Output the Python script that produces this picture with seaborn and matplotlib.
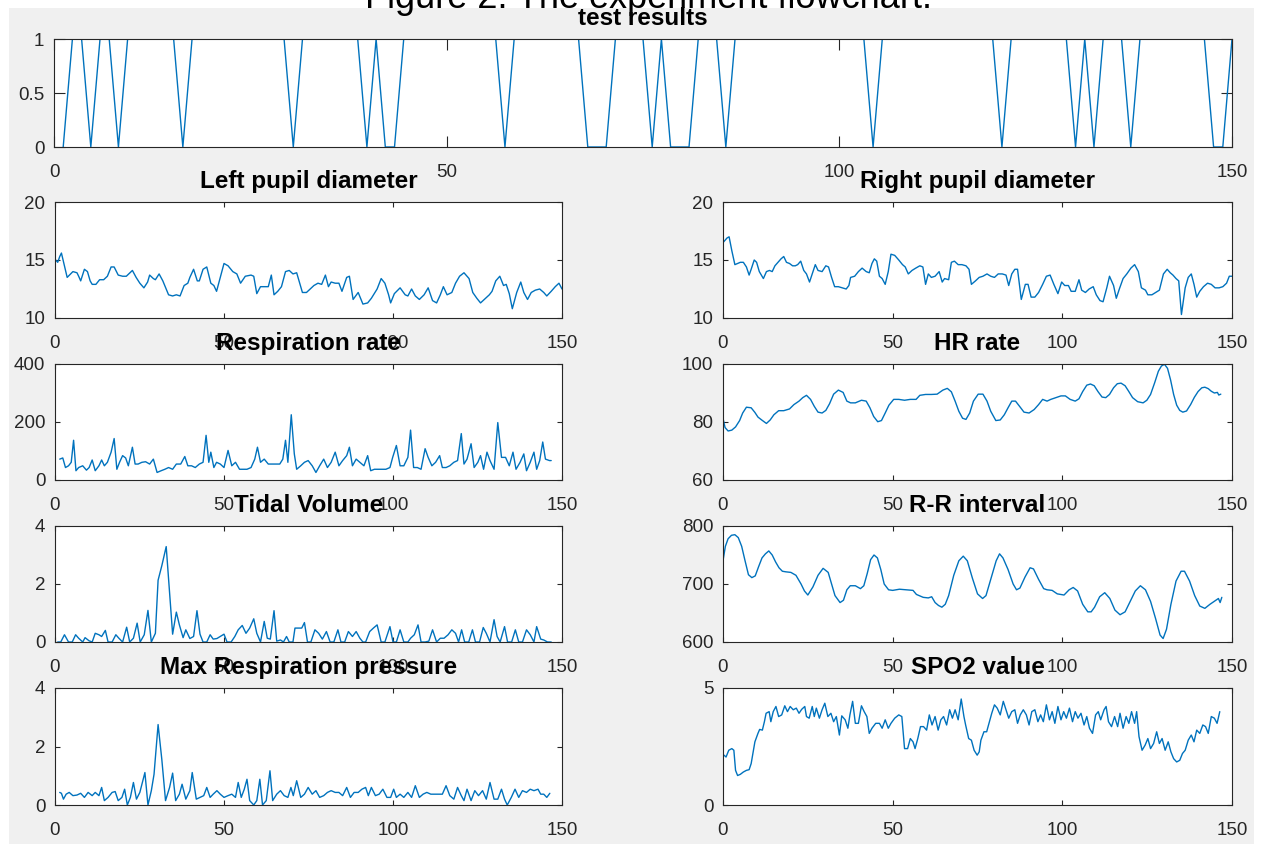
import numpy as np
import matplotlib
matplotlib.use("Agg")
import matplotlib.pyplot as plt
import seaborn as sns
from matplotlib.patches import Rectangle

# ---------------- data ----------------
test_results = [0,1,1,0,1,1,0,1,1,1,1,1,1,0,1,1,
                1,1,1,1,1,1,1,1,1,0,1,1,1,1,1,1,
                1,0,1,0,0,1,1,1,1,1,1,1,1,1,1,1,
                0,1,1,1,1,1,1,1,1,0,0,0,1,1,1,1,
                0,1,0,0,0,1,1,1,0,1,1,1,1,1,1,1,
                1,1,1,1,1,1,1,1,0,1,1,1,1,1,1,1,
                1,1,1,1,1,1,0,1,1,1,1,1,1,1,0,1,
                0,1,1,1,0,1,1,1,1,1,1,1,1,0,0,1]
test_x = np.arange(1, len(test_results) + 1) * 150 / len(test_results)

left_pupil_x = [0.2,0.8,1.4,1.9,3.6,5.3,6.5,7.0,7.6,8.7,
                9.6,10.4,11.0,12.1,13.2,14.4,15.5,16.6,17.5,18.7,
                20.0,21.1,22.9,24.0,25.1,26.3,27.4,28.0,29.1,29.7,
                30.8,31.9,33.6,34.8,35.9,37.0,38.2,39.3,39.9,41.0,
                42.1,42.7,43.8,44.9,46.1,47.0,47.8,48.9,50.0,51.2,
                52.6,53.8,54.9,56.3,58.0,58.8,59.7,60.8,62.5,63.1,
                64.0,64.8,65.9,67.0,68.2,69.3,70.4,71.5,73.2,74.4,
                75.5,76.6,77.8,78.9,80.0,80.9,81.7,82.9,84.0,84.9,
                86.3,87.1,88.2,89.7,91.1,92.5,93.6,95.3,96.5,97.6,
                98.7,99.3,100.4,102.1,103.6,104.4,105.5,106.6,107.8,109.2,
                110.4,111.7,112.9,114.0,114.9,116.0,117.4,118.5,119.7,121.0,
                122.5,123.6,124.8,125.9,127.4,128.5,129.3,130.4,131.6,132.7,
                133.5,134.4,135.3,136.6,137.8,138.7,139.8,140.9,142.1,143.4,
                144.6,145.5,146.8,148.0,149.1,150.0]
left_pupil = [15.0,14.8,15.3,15.6,13.5,14.0,13.9,13.6,13.2,14.2,
              14.0,13.2,12.9,12.9,13.3,13.3,13.6,14.4,14.4,13.7,
              13.6,13.6,14.1,13.5,13.0,12.6,13.1,13.7,13.4,13.3,
              13.8,13.2,12.0,11.9,12.0,11.9,12.8,13.0,13.5,14.2,
              13.2,13.2,14.2,14.4,13.0,12.8,12.3,13.5,14.7,14.5,
              14.0,13.8,13.0,13.6,13.7,13.6,12.1,12.7,12.7,12.7,
              13.7,12.0,12.3,12.7,14.0,14.1,13.8,13.9,12.2,12.2,
              12.5,12.8,13.0,12.9,13.7,12.7,13.1,13.0,13.0,12.3,
              13.5,13.6,11.6,12.2,11.2,11.3,11.7,12.5,13.4,13.0,
              12.0,11.3,12.1,12.6,12.0,11.9,12.5,11.9,11.6,12.0,
              12.6,11.5,11.3,12.0,12.7,12.0,12.2,13.0,13.6,13.9,
              13.4,12.2,11.7,11.3,11.7,12.0,12.3,13.2,13.6,12.8,
              12.9,12.1,10.8,12.2,13.1,12.2,11.6,12.2,12.4,12.5,
              12.2,11.9,12.3,12.7,13.0,12.5]

right_pupil_x = [0.0,1.2,1.8,2.6,3.5,4.3,5.1,6.0,6.9,7.7,
                 8.3,9.2,9.9,10.7,11.9,12.8,13.7,14.5,15.3,16.2,
                 17.1,17.9,18.7,19.6,20.5,21.3,22.0,22.9,23.8,24.6,
                 25.5,26.3,27.2,28.0,29.2,30.3,31.1,32.0,32.9,34.0,
                 35.2,36.3,37.1,37.6,38.8,39.9,41.0,42.2,43.1,43.9,
                 44.6,45.3,46.1,46.9,47.8,48.7,49.5,50.6,51.8,52.9,
                 53.7,54.6,55.7,56.8,58.0,58.9,59.7,60.5,61.4,62.5,
                 63.7,64.6,65.3,66.5,67.3,68.2,69.3,70.4,71.6,72.5,
                 73.2,74.4,75.5,76.6,77.8,78.9,80.0,81.1,82.3,83.4,
                 84.2,85.1,86.0,86.8,87.9,89.1,89.9,90.8,91.9,93.0,
                 94.2,95.3,96.4,97.5,98.7,99.8,100.7,101.8,102.6,103.8,
                 104.9,105.7,106.8,107.9,109.1,110.0,111.1,112.0,113.1,113.9,
                 115.1,115.9,116.8,117.9,119.0,120.2,121.3,122.4,123.3,124.5,
                 125.2,126.4,127.5,128.6,129.8,130.9,131.8,132.6,133.5,134.3,
                 135.1,136.2,137.1,138.0,138.8,139.6,140.5,141.6,142.8,143.9,
                 145.0,146.2,147.3,148.4,149.2,150.0]
right_pupil = [16.5,16.9,17.0,15.8,14.6,14.7,14.8,14.8,14.4,13.7,
               14.2,15.0,14.8,14.0,13.4,14.0,14.1,14.0,14.5,14.8,
               15.1,15.3,14.8,14.7,14.5,14.5,14.6,14.9,14.1,13.8,
               13.1,13.8,14.6,14.1,14.0,14.5,14.4,13.5,12.7,12.7,
               12.6,12.5,12.8,13.5,13.6,14.0,14.3,14.0,13.9,14.7,
               15.1,14.9,13.6,13.4,12.9,14.0,15.5,15.4,15.0,14.6,
               14.4,13.8,14.1,14.3,14.5,14.4,12.9,13.8,13.5,13.6,
               14.0,13.1,13.4,13.3,14.8,14.9,14.6,14.6,14.5,14.2,
               12.9,13.2,13.5,13.6,13.8,13.6,13.5,13.8,13.8,13.7,
               12.8,13.8,14.2,14.2,11.6,12.9,12.9,11.8,11.8,12.2,
               12.9,13.6,13.7,12.9,12.1,13.1,12.8,12.8,12.3,12.3,
               13.3,12.4,12.2,12.5,12.7,12.0,11.5,11.4,12.6,13.6,
               12.8,11.7,12.5,13.4,13.8,14.3,14.6,14.0,12.6,12.4,
               12.0,12.0,12.2,12.4,13.8,14.2,13.9,13.7,13.4,13.2,
               10.3,12.6,13.5,13.8,12.9,11.8,12.3,12.7,13.0,12.9,
               12.6,12.6,12.7,13.0,13.6,13.6]

resp_rate_x = [1.4,2.3,3.1,4.0,4.8,5.5,6.2,7.0,8.2,9.3,
               10.1,11.0,11.9,13.0,13.8,14.6,15.5,16.6,17.5,18.3,
               19.1,20.0,20.9,21.7,22.9,23.7,24.6,25.7,26.8,28.0,
               29.1,30.2,31.4,32.5,33.6,34.8,35.9,37.2,38.4,39.3,
               40.4,41.5,42.7,43.8,44.7,45.5,46.1,47.0,47.8,48.9,
               50.0,51.2,52.3,53.4,54.6,55.7,56.8,58.0,59.1,59.9,
               60.8,61.9,63.1,64.2,65.3,66.5,67.4,68.2,68.9,69.9,
               70.8,71.5,72.7,73.8,74.9,76.1,77.2,78.3,79.5,80.6,
               81.7,82.9,84.0,85.1,86.3,87.1,88.0,89.1,90.2,91.4,
               92.5,93.4,94.5,95.7,96.8,97.9,99.1,99.9,101.0,102.1,
               103.2,104.4,105.2,106.1,107.2,108.3,109.5,110.4,111.5,112.6,
               113.8,114.6,115.7,116.8,118.0,119.1,120.2,121.0,121.9,123.1,
               124.0,125.1,125.9,126.8,127.8,128.7,129.9,131.0,132.1,133.3,
               134.4,135.5,136.4,137.6,138.7,139.5,140.6,141.7,142.5,143.4,
               144.3,145.1,146.3,146.8]
resp_rate = [72,76,43,49,61,137,32,43,49,34,
             43,69,32,49,69,49,61,96,143,37,
             61,84,76,49,113,55,55,61,63,55,
             72,26,32,37,43,37,55,55,81,49,
             49,43,55,61,154,61,96,43,61,55,
             43,102,49,61,37,37,37,43,72,113,
             61,72,55,55,55,55,72,137,61,225,
             90,37,49,61,67,49,26,49,72,43,
             61,96,49,67,84,113,49,72,61,49,
             84,32,37,37,37,37,43,78,119,49,
             49,78,172,43,43,37,108,78,49,61,
             84,43,43,49,61,67,160,55,72,125,
             43,61,84,37,96,67,37,198,78,78,
             49,96,37,61,90,32,61,96,37,67,
             131,72,67,67]

hr_x = [0,0.6,1.5,2.6,3.7,4.9,5.8,6.9,8.3,9.4,
        10.3,11.4,12.8,13.9,15.0,16.4,17.9,19.6,20.9,22.4,
        23.5,24.6,25.8,26.9,28.0,29.2,30.3,31.4,32.6,34.0,
        35.4,36.5,37.6,39.0,40.8,42.2,43.3,44.4,45.6,46.7,
        47.8,48.9,50.3,51.8,53.5,55.2,56.9,58.0,59.7,61.4,
        63.1,64.8,66.1,67.3,68.4,69.5,70.6,71.6,72.7,73.8,
        75.2,76.6,77.8,78.9,80.4,81.7,82.9,84.0,85.1,86.2,
        87.4,88.7,90.2,91.7,93.0,94.2,95.5,96.6,98.1,99.6,
        100.9,102.3,103.8,104.9,106.0,107.2,108.3,109.4,110.5,111.7,
        112.8,113.9,115.1,116.2,117.3,118.5,119.6,120.7,122.2,123.8,
        124.9,126.0,127.2,128.3,129.2,130.1,131.0,131.9,132.8,133.7,
        134.6,135.5,136.6,137.8,138.9,140.0,141.1,142.0,143.0,143.9,
        144.8,145.7,146.1,146.7]
hr_rate = [81.3,78.1,76.9,77.2,78.3,80.5,83.1,85.1,84.9,83.3,
           81.7,80.7,79.5,80.7,82.5,83.9,83.9,84.5,86.0,87.2,
           88.4,89.2,87.8,85.4,83.4,83.1,84.0,86.3,89.6,91.0,
           90.2,87.2,86.6,86.6,87.5,87.2,84.9,81.9,80.1,80.5,
           83.1,85.8,87.8,87.8,87.5,87.8,87.8,89.2,89.5,89.5,
           89.6,91.0,91.6,90.4,87.2,83.7,81.3,80.9,83.1,87.2,
           89.6,89.6,87.2,83.7,80.5,80.7,82.5,84.9,87.2,87.2,
           85.4,83.4,83.1,84.3,86.0,87.8,87.2,87.8,88.4,89.0,
           89.0,87.8,87.2,88.0,90.5,92.7,93.1,92.5,90.5,88.6,
           88.4,89.5,91.8,93.2,93.4,92.5,90.5,88.4,87.0,86.6,
           87.5,89.5,93.5,97.5,99.3,99.9,98.5,94.5,89.5,85.8,
           84.0,83.4,83.8,86.0,88.5,90.5,91.8,92.0,91.5,90.6,
           90.0,90.2,89.3,89.6]

tidal_x = [0.8,1.7,2.8,4.0,5.1,6.1,7.0,8.2,8.9,10.1,
           11.0,11.9,13.0,13.8,14.9,15.7,16.9,18.0,18.9,20.0,
           21.2,22.1,23.2,24.3,25.2,26.4,27.5,28.5,29.7,30.5,
           31.6,32.9,34.8,35.9,36.8,37.9,38.7,39.9,41.0,42.0,
           42.9,43.8,44.9,45.9,46.8,47.9,48.9,50.0,50.9,52.1,
           53.2,54.2,55.4,56.5,57.6,58.8,59.7,60.8,61.9,62.8,
           63.7,64.8,65.6,66.7,67.6,68.5,69.3,70.4,71.0,72.1,
           73.0,73.8,74.7,75.7,76.9,78.0,79.1,80.3,81.4,82.5,
           83.7,84.6,85.7,86.8,88.0,89.1,90.2,91.1,91.9,93.1,
           94.2,95.3,96.5,97.6,99.1,100.0,101.0,102.1,103.2,104.4,
           105.2,106.3,107.4,108.3,109.5,110.6,111.7,112.9,114.0,115.1,
           116.3,117.4,118.5,119.4,120.3,121.2,122.4,123.5,124.4,125.6,
           126.7,127.6,128.7,129.9,130.8,131.7,133.0,133.9,135.1,136.2,
           137.2,138.3,139.5,140.6,141.7,142.5,143.7,144.6,145.7,146.8]
tidal_volume = [0,0,0.25,0,0,0.25,0.13,0,0.15,0.04,
                0,0.3,0.25,0.19,0.4,0,0,0.25,0.13,0,
                0.51,0,0.13,0.65,0,0.25,1.09,0,0.3,2.13,
                2.63,3.29,0.27,1.03,0.59,0.15,0.42,0.12,0.19,1.08,
                0.27,0,0,0.25,0.1,0.12,0.19,0.27,0,0,
                0.19,0.42,0.57,0.3,0.48,0.8,0.3,0,0.71,0.13,
                0.1,1.08,0.03,0.07,0,0.19,0,0,0.48,0.48,
                0.48,0.67,0,0,0.42,0.3,0.1,0.36,0,0,
                0.42,0,0,0.36,0.19,0.36,0.13,0,0,0.36,
                0.48,0.59,0,0,0.53,0,0,0.42,0,0,
                0.13,0.25,0.59,0,0,0.03,0.42,0,0.13,0.13,
                0.25,0.42,0.3,0,0.42,0,0,0.42,0,0,
                0.5,0.3,0,0.77,0.19,0,0.53,0,0,0.42,
                0,0,0.42,0.25,0,0.53,0.1,0.07,0,0]

rr_x = [0,0.7,1.5,2.5,3.5,4.5,5.5,6.5,7.5,8.5,
        9.5,10.5,11.5,12.5,13.5,14.5,15.5,16.5,17.5,18.5,
        20,21.5,23,24,25,26.5,28,29.5,31,32,
        33,34.5,35.5,36.5,37.5,39,40.5,41.5,42.5,43.5,
        44.5,45.5,46.5,47.5,48.8,50,52,54,56,57,
        59,60.5,61.5,62.5,63.5,64.5,65.5,66.5,68,69.5,
        70.8,72,73.5,75,76.5,77.5,79,80.5,81.5,82.5,
        84,85.5,86.5,87.5,89,90.5,91.5,93,94.5,95.5,
        97,98.5,100.5,102,103.2,104.5,106,107.5,108.5,109.5,
        111,112.5,114,115.5,117,118.5,120,121.5,123,124.5,
        126,127.5,128.8,129.7,130.7,132,133.5,135,136,137.5,
        139,140.5,142,143.5,145,146,146.5,147]
rr_interval = [740,765,778,784,785,780,765,740,716,711,
               714,730,745,752,757,750,738,728,722,721,
               720,715,700,688,681,695,715,727,720,700,
               680,668,672,690,697,697,692,697,718,742,
               750,745,725,700,690,689,691,690,689,682,
               677,676,678,668,663,660,665,680,715,740,
               748,740,710,683,675,680,710,740,752,745,
               725,700,690,693,712,728,726,708,692,690,
               689,683,681,690,694,688,665,652,652,660,
               678,685,675,655,647,652,670,688,697,690,
               670,640,612,606,622,665,705,722,722,705,
               680,662,658,665,671,675,668,677]

max_resp_x = [1.4,1.9,2.5,3.3,4.2,5.3,6.5,7.6,8.7,9.8,
              11.0,11.9,13.0,13.8,14.6,15.7,16.9,17.8,18.7,19.8,
              20.6,21.4,22.3,23.2,24.1,25.1,26.6,27.5,28.5,29.3,
              30.5,31.6,32.7,33.9,34.8,35.7,36.8,37.6,38.7,39.9,
              40.6,41.8,42.9,44.0,44.9,45.9,46.8,47.9,48.9,50.0,
              51.2,52.3,53.4,54.2,55.1,56.0,56.8,57.6,58.8,59.7,
              60.6,61.4,62.5,63.6,64.4,65.6,66.7,67.8,68.9,69.8,
              70.5,71.5,72.7,73.8,74.9,76.1,77.2,78.3,79.5,80.6,
              81.7,82.9,84.0,85.1,86.3,87.4,88.5,89.7,90.8,91.9,
              92.7,93.6,94.8,95.9,97.0,98.2,99.3,100.2,101.0,102.1,
              103.2,104.4,105.5,106.6,107.8,108.9,110.0,111.2,112.3,113.4,
              114.6,115.7,116.8,118.0,119.1,120.2,121.0,121.9,123.1,124.2,
              125.3,126.5,127.6,128.7,129.9,131.0,132.1,133.0,133.8,135.0,
              136.1,137.2,138.3,139.5,140.6,141.7,142.9,143.7,144.6,145.5,
              146.4]
max_resp_pressure = [0.43,0.4,0.2,0.37,0.43,0.32,0.34,0.4,0.26,0.43,
                     0.32,0.43,0.32,0.6,0.15,0.26,0.43,0.46,0.15,0.26,
                     0.54,0.0,0.26,0.77,0.2,0.43,1.11,0.0,0.49,1.05,
                     2.75,1.56,0.15,0.6,1.09,0.15,0.37,0.71,0.2,0.49,
                     1.11,0.2,0.26,0.32,0.6,0.26,0.37,0.49,0.37,0.26,
                     0.32,0.37,0.26,0.77,0.26,0.54,0.88,0.15,0.0,0.15,
                     0.88,0.0,0.15,1.17,0.15,0.37,0.49,0.32,0.26,0.6,
                     0.32,0.83,0.26,0.37,0.6,0.37,0.49,0.26,0.32,0.43,
                     0.49,0.43,0.43,0.32,0.6,0.26,0.43,0.43,0.54,0.6,
                     0.32,0.6,0.32,0.37,0.54,0.26,0.26,0.54,0.26,0.37,
                     0.26,0.43,0.26,0.66,0.26,0.37,0.43,0.37,0.37,0.37,
                     0.37,0.66,0.32,0.2,0.6,0.32,0.15,0.54,0.15,0.49,
                     0.32,0.49,0.2,0.77,0.2,0.2,0.54,0.2,0.0,0.26,
                     0.54,0.26,0.49,0.43,0.54,0.49,0.54,0.37,0.37,0.26,
                     0.4]

spo2_x = [0.3,0.9,1.7,2.6,3.2,3.7,4.3,5.1,6.0,6.9,
          7.7,8.3,9.4,10.3,10.8,11.6,12.2,12.7,13.6,14.1,
          14.8,15.6,16.4,17.3,18.2,19.0,19.8,20.7,21.6,22.4,
          23.2,24.1,24.6,25.4,26.3,26.9,27.5,28.4,29.2,30.0,
          30.9,31.8,32.6,33.4,34.3,35.0,36.0,36.8,37.4,38.2,
          39.0,39.9,40.8,41.6,42.4,43.1,43.9,45.0,46.1,46.9,
          47.8,48.7,49.5,50.6,51.8,52.7,53.5,54.4,55.2,56.0,
          56.6,57.4,58.2,59.1,60.0,60.8,61.6,62.5,63.4,64.2,
          65.0,65.9,66.8,67.6,68.4,69.3,70.2,71.0,71.5,72.4,
          73.2,74.0,74.9,75.5,76.0,76.9,77.7,78.5,79.2,80.0,
          80.8,81.7,82.6,83.4,84.2,85.1,86.0,86.8,87.6,88.5,
          89.4,90.2,91.0,91.9,92.8,93.6,94.4,95.3,96.2,97.0,
          97.8,98.7,99.6,100.4,101.2,102.1,103.0,103.8,104.6,105.5,
          106.4,107.2,108.0,108.9,109.8,110.6,111.3,112.3,112.9,113.6,
          114.5,115.4,116.3,117.0,117.9,118.8,119.6,120.4,121.3,121.9,
          122.6,123.5,124.4,125.2,126.0,126.9,127.8,128.6,129.4,130.3,
          131.2,132.0,132.8,133.7,134.6,135.4,136.2,137.1,138.0,138.8,
          139.6,140.5,141.4,142.2,143.0,143.9,144.8,145.6,146.4]
spo2_value = [2.13,2.05,2.34,2.41,2.34,1.48,1.26,1.31,1.41,1.48,
              1.51,1.77,2.7,3.06,3.23,3.2,3.56,3.92,3.99,3.56,
              3.99,4.21,3.78,3.85,4.24,3.99,4.21,4.07,4.14,3.92,
              4.09,4.21,3.78,3.71,4.21,3.78,4.14,3.71,4.07,4.35,
              3.78,3.92,3.56,3.78,2.99,3.81,3.64,3.28,3.85,4.43,
              3.49,3.49,4.24,3.99,3.78,3.06,3.28,3.49,3.49,3.28,
              3.64,3.28,3.49,3.71,3.85,3.78,2.41,2.41,2.84,2.7,
              2.41,2.84,3.35,3.35,3.2,3.85,3.42,3.78,3.2,3.64,
              3.78,3.42,4.07,3.71,4.07,3.64,4.53,3.78,3.42,2.84,
              2.77,2.34,2.13,2.27,2.77,3.13,3.13,3.56,3.92,4.28,
              4.14,3.85,4.43,4.07,3.71,3.99,4.07,3.49,3.85,4.07,
              3.85,3.42,3.99,4.07,3.56,3.85,3.56,4.28,3.64,3.99,
              3.49,4.21,3.64,3.99,3.71,4.14,3.56,3.99,3.71,3.92,
              3.42,3.78,3.28,3.06,3.85,3.99,3.64,4.07,4.21,3.56,
              3.35,3.78,3.35,3.92,3.28,3.78,3.49,3.99,3.49,3.99,
              2.92,2.34,2.56,2.84,2.41,2.63,3.13,2.63,2.84,2.34,
              2.7,2.27,1.98,1.84,1.91,2.2,2.34,2.77,2.99,2.7,
              3.2,3.06,3.42,3.35,3.06,3.78,3.71,3.49,3.99]

x_ticks = [0, 50, 100, 150]

# ---------------- figure ----------------
sns.set_theme(style="ticks")
plt.rcParams['font.family'] = ['Liberation Sans', 'DejaVu Sans']

W, H = 1261, 844
fig = plt.figure(figsize=(W / 100, H / 100), dpi=100, facecolor='white')
fig.patches.append(Rectangle((9 / W, 0), 1245 / W, 836 / H, transform=fig.transFigure,
                             facecolor='#f0f0f0', edgecolor='none', zorder=-10))

LINE = '#0072BD'
DARK = '#262626'


def make_ax(l, t, r, b):
    return fig.add_axes([l / W, 1 - b / H, (r - l) / W, (b - t) / H])


def style(ax, title, ylim, yticks, yticklabels, ticklen):
    ax.set_facecolor('white')
    for s in ax.spines.values():
        s.set_visible(True)
        s.set_color(DARK)
        s.set_linewidth(0.8)
    ax.set_xlim(0, 150)
    ax.set_xticks(x_ticks)
    ax.set_xticklabels([str(v) for v in x_ticks])
    ax.set_ylim(*ylim)
    ax.set_yticks(yticks)
    ax.set_yticklabels(yticklabels)
    ax.tick_params(axis='both', direction='in', top=True, right=True, length=ticklen,
                   width=0.8, color=DARK, labelsize=13.5, labelcolor=DARK)
    ax.tick_params(axis='x', pad=12)
    ax.tick_params(axis='y', pad=7)
    ax.set_xlabel('')
    ax.set_ylabel('')
    ax.set_title(title, fontsize=17.5, fontweight='bold', color='black', pad=10)


def draw(ax, x, y):
    sns.lineplot(x=x, y=y, ax=ax, color=LINE, linewidth=1.0,
                 estimator=None, sort=False, legend=False)


# top panel
ax0 = make_ax(54, 39, 1232, 147)
draw(ax0, test_x, test_results)
style(ax0, 'test results', (0, 1), [0, 0.5, 1], ['0', '0.5', '1'], 8)

L0, L1 = 55, 562
R0, R1 = 723, 1232
rows = [(202, 318), (364, 480), (526, 642), (688, 805)]

panels = [
    (L0, L1, rows[0], 'Left pupil diameter', left_pupil_x, left_pupil, (10, 20), [10, 15, 20]),
    (R0, R1, rows[0], 'Right pupil diameter', right_pupil_x, right_pupil, (10, 20), [10, 15, 20]),
    (L0, L1, rows[1], 'Respiration rate', resp_rate_x, resp_rate, (0, 400), [0, 200, 400]),
    (R0, R1, rows[1], 'HR rate', hr_x, hr_rate, (60, 100), [60, 80, 100]),
    (L0, L1, rows[2], 'Tidal Volume', tidal_x, tidal_volume, (0, 4), [0, 2, 4]),
    (R0, R1, rows[2], 'R-R interval', rr_x, rr_interval, (600, 800), [600, 700, 800]),
    (L0, L1, rows[3], 'Max Respiration pressure', max_resp_x, max_resp_pressure, (0, 4), [0, 2, 4]),
    (R0, R1, rows[3], 'SPO2 value', spo2_x, spo2_value, (0, 5), [0, 5]),
]

for l, r, (t, b), title, xs, ys, ylim, yt in panels:
    ax = make_ax(l, t, r, b)
    draw(ax, xs, ys)
    style(ax, title, ylim, yt, [str(v) for v in yt], 3.6)

fig.text(0.514, 1 - 8.5 / H, 'Figure 2. The experiment flowchart.', ha='center', va='baseline',
         fontsize=26, color='black', zorder=20)

fig.savefig('out.png', dpi=100, facecolor=fig.get_facecolor())
